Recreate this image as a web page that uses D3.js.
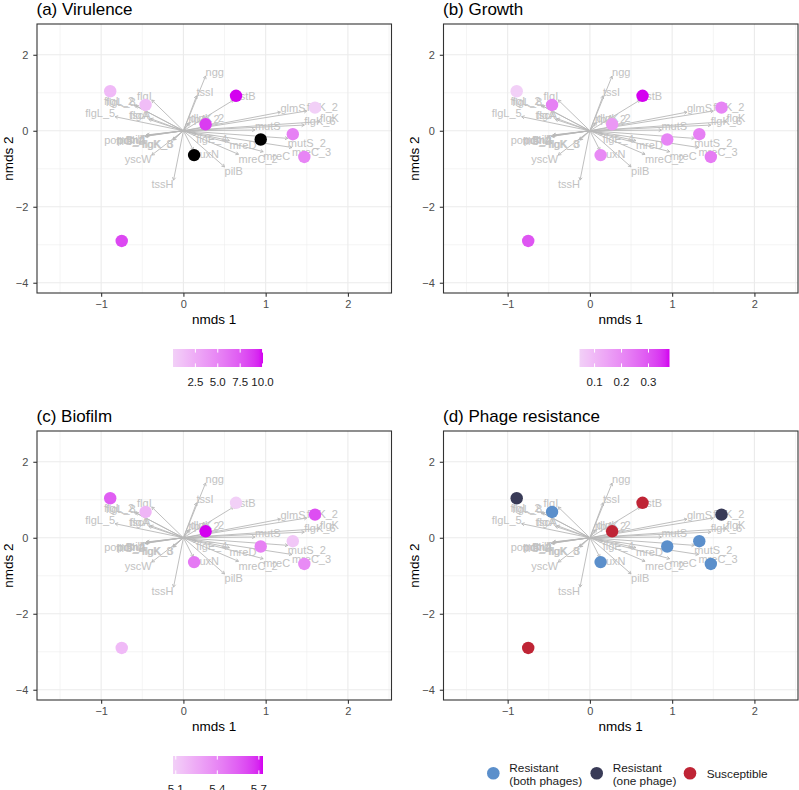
<!DOCTYPE html>
<html><head><meta charset="utf-8">
<script src="https://cdn.jsdelivr.net/npm/d3@7"></script>
<style>body{margin:0;background:#fff}svg{font-family:"Liberation Sans",Arial,sans-serif}</style>
</head><body><svg id="c" width="799" height="790"></svg>
<script>
// ---- data ----
const nmds1 = [-0.89, -0.46, 0.64, 0.27, 1.60, 1.33, 0.94, 0.13, 1.47, -0.75];
const nmds2 = [1.04, 0.68, 0.92, 0.17, 0.61, -0.09, -0.23, -0.64, -0.69, -2.90];
const virulence = [1.5, 1.3, 10.05, 8.8, 0.0, 5.3, null, null, 5.0, 8.3];
const growth = [0.044, 0.22, 0.378, 0.17, 0.21, 0.22, 0.21, 0.20, 0.23, 0.30];
const biofilm = [5.55, 5.20, 5.08, 5.73, 5.60, 5.12, 5.42, 5.45, 5.38, 5.18];
const phage = ["one", "both", "sus", "sus", "one", "both", "both", "both", "both", "sus"];
const phageKeys = ["both", "one", "sus"];
const phageLabels = [["Resistant", "(both phages)"], ["Resistant", "(one phage)"], ["Susceptible"]];
const phageColors = ["#5B8FCB", "#393B57", "#BF2435"];
const genes = ["ngg","tssI","pstB","flgI","flgL_2","flgL_8","flgL_5","flgA","tscA","tlpA_2","dlpK_2",
  "glmS","flgK_2","flgK_6","flgK","mutS","mutS_2","mreC_3","mreC","mreC_2","mreD","flgE_4","auxN",
  "pilB","tssH","yscW","flgK_3","flgK_8","pomA","pomB_2","pilT","fliG_2","flhA"];
const geneX = [0.27,0.16,0.61,-0.385,-0.60,-0.58,-0.83,-0.42,-0.40,0.06,0.08,
  1.18,1.50,1.47,1.66,0.87,1.27,1.32,0.97,0.67,0.56,0.155,0.12,
  0.50,-0.12,-0.385,-0.12,-0.13,-0.455,-0.465,-0.445,-0.47,-0.46];
const geneY = [1.44,0.92,0.81,0.81,0.68,0.66,0.37,0.30,0.32,0.20,0.22,
  0.49,0.52,0.15,0.24,0.02,-0.20,-0.44,-0.55,-0.62,-0.26,-0.095,-0.51,
  -0.95,-1.30,-0.64,-0.245,-0.235,-0.12,-0.14,-0.11,-0.15,-0.13];
const xTicks = [-1, 0, 1, 2], yTicks = [-4, -2, 0, 2];
const xMinor = [-1.5, -0.5, 0.5, 1.5, 2.5], yMinor = [-3, -1, 1];
const virTicks = [2.5, 5.0, 7.5, 10.0], groTicks = [0.1, 0.2, 0.3], bioTicks = [5.1, 5.4, 5.7];
const titles = ["(a) Virulence", "(b) Growth", "(c) Biofilm", "(d) Phage resistance"];

// ---- layout ----
const W = 354.5, H = 269;
const panels = [{l:37,t:24},{l:443.5,t:24},{l:37,t:431},{l:443.5,t:431}];
const x = d3.scaleLinear().domain([-1.78, 2.53]).range([0, W]);
const y = d3.scaleLinear().domain([2.81, -4.27]).range([0, H]);
const lowC = "#F2D0F7", highC = "#D400F0";
const svg = d3.select("#c");
const defs = svg.append("defs");
defs.append("clipPath").attr("id","clip").append("rect").attr("width",W).attr("height",H);

function gradScale(vals){
  const ext = d3.extent(vals.filter(v => v != null));
  return d3.scaleLinear().domain(ext).range([lowC, highC]).interpolate(d3.interpolateLab);
}
const scales = [gradScale(virulence), gradScale(growth), gradScale(biofilm)];
const valsets = [virulence, growth, biofilm];
const tickSets = [virTicks, groTicks, bioTicks];
const fmt = d3.format(".1f");
const phageScale = d3.scaleOrdinal().domain(phageKeys).range(phageColors);

panels.forEach((p, i) => {
  const g = svg.append("g").attr("transform", `translate(${p.l},${p.t})`);
  svg.append("text").attr("x", p.l - 0.5).attr("y", p.t - 9.5).attr("font-size", 17).attr("fill", "#000").text(titles[i]);
  g.append("rect").attr("width", W).attr("height", H).attr("fill", "#fff");
  const grid = g.append("g");
  grid.selectAll(".vm").data(xMinor).join("line").attr("x1", d => x(d)).attr("x2", d => x(d)).attr("y1", 0).attr("y2", H).attr("stroke", "#ebebeb").attr("stroke-width", 0.55);
  grid.selectAll(".hm").data(yMinor).join("line").attr("y1", d => y(d)).attr("y2", d => y(d)).attr("x1", 0).attr("x2", W).attr("stroke", "#ebebeb").attr("stroke-width", 0.55);
  grid.selectAll(".vM").data(xTicks).join("line").attr("x1", d => x(d)).attr("x2", d => x(d)).attr("y1", 0).attr("y2", H).attr("stroke", "#ebebeb").attr("stroke-width", 1.1);
  grid.selectAll(".hM").data(yTicks).join("line").attr("y1", d => y(d)).attr("y2", d => y(d)).attr("x1", 0).attr("x2", W).attr("stroke", "#ebebeb").attr("stroke-width", 1.1);

  const inner = g.append("g").attr("clip-path", "url(#clip)");
  // arrows
  const ag = inner.append("g").attr("stroke", "#b8b8b8").attr("stroke-width", 0.9).attr("fill", "none");
  genes.forEach((gn, j) => {
    const x0 = x(0), y0 = y(0), x1 = x(geneX[j]), y1 = y(geneY[j]);
    ag.append("line").attr("x1", x0).attr("y1", y0).attr("x2", x1).attr("y2", y1);
    const a = Math.atan2(y1 - y0, x1 - x0), L = 3.2, s = Math.PI / 6;
    ag.append("path").attr("d", `M${x1 - L*Math.cos(a - s)},${y1 - L*Math.sin(a - s)}L${x1},${y1}L${x1 - L*Math.cos(a + s)},${y1 - L*Math.sin(a + s)}`);
  });
  // labels
  inner.append("g").selectAll("text").data(genes).join("text")
    .attr("x", (d, j) => x(geneX[j]))
    .attr("y", (d, j) => geneY[j] >= 0 ? y(geneY[j]) : y(geneY[j]) + 8.3)
    .attr("text-anchor", (d, j) => geneX[j] >= 0 ? "start" : "end")
    .attr("font-size", 11).attr("fill", "#c2c2c2").text(d => d);
  // points
  inner.append("g").selectAll("circle").data(nmds1).join("circle")
    .attr("cx", d => x(d)).attr("cy", (d, j) => y(nmds2[j])).attr("r", 6.2)
    .attr("fill", (d, j) => {
      if (i === 3) return phageScale(phage[j]);
      const v = valsets[i][j];
      return v == null ? "#000" : scales[i](v);
    });
  g.append("rect").attr("width", W).attr("height", H).attr("fill", "none").attr("stroke", "#333").attr("stroke-width", 1.1);

  // axes
  const ax = g.append("g").attr("transform", `translate(0,${H})`)
    .call(d3.axisBottom(x).tickValues(xTicks).tickSize(3.7).tickPadding(3).tickFormat(d3.format("d")));
  const ay = g.append("g").call(d3.axisLeft(y).tickValues(yTicks).tickSize(3.7).tickPadding(5).tickFormat(d3.format("d")));
  [ax, ay].forEach(a => {
    a.select(".domain").remove();
    a.selectAll("line").attr("stroke", "#333").attr("stroke-width", 1.1);
    a.selectAll("text").attr("fill", "#4d4d4d").attr("font-size", 11).attr("font-family", "Liberation Sans, Arial, sans-serif");
  });
  g.append("text").attr("x", W / 2).attr("y", H + 31).attr("text-anchor", "middle").attr("font-size", 13.5).text("nmds 1");
  g.append("text").attr("transform", `translate(-24.5,${H / 2}) rotate(-90)`).attr("text-anchor", "middle").attr("font-size", 13.5).text("nmds 2");

  // legends
  if (i < 3) {
    const sc = scales[i], dom = sc.domain();
    const gid = "grad" + i;
    const lg = defs.append("linearGradient").attr("id", gid);
    d3.range(0, 1.0001, 0.05).forEach(t => lg.append("stop").attr("offset", t).attr("stop-color", sc(dom[0] + t * (dom[1] - dom[0]))));
    const bx = 136, by = 325, bw = 90, bh = 18;
    const lgG = g.append("g").attr("transform", `translate(${bx},${by})`);
    lgG.append("rect").attr("width", bw).attr("height", bh).attr("fill", `url(#${gid})`);
    const bs = d3.scaleLinear().domain(dom).range([0, bw]);
    tickSets[i].forEach(tv => {
      lgG.append("line").attr("x1", bs(tv)).attr("x2", bs(tv)).attr("y1", 0).attr("y2", bh / 5).attr("stroke", "#fff").attr("stroke-width", 1);
      lgG.append("line").attr("x1", bs(tv)).attr("x2", bs(tv)).attr("y1", bh - bh / 5).attr("y2", bh).attr("stroke", "#fff").attr("stroke-width", 1);
      lgG.append("text").attr("x", bs(tv)).attr("y", bh + 18.5).attr("text-anchor", "middle").attr("font-size", 11.5).attr("fill", "#1a1a1a").text(fmt(tv));
    });
  } else {
    const lgG = g.append("g");
    const cxs = [493.3, 596.7, 690].map(v => v - p.l);
    const txs = [509.3, 612.7, 706.7].map(v => v - p.l);
    const cy = 773.3 - p.t;
    phageKeys.forEach((k, j) => {
      lgG.append("circle").attr("cx", cxs[j]).attr("cy", cy).attr("r", 6.3).attr("fill", phageColors[j]);
      const lines = phageLabels[j];
      const t = lgG.append("text").attr("font-size", 11.8).attr("fill", "#1a1a1a");
      if (lines.length === 2) {
        t.append("tspan").attr("x", txs[j]).attr("y", cy - 1.5).text(lines[0]);
        t.append("tspan").attr("x", txs[j]).attr("y", cy + 11.7).text(lines[1]);
      } else {
        t.append("tspan").attr("x", txs[j]).attr("y", cy + 4.5).text(lines[0]);
      }
    });
  }
});
</script></body></html>
